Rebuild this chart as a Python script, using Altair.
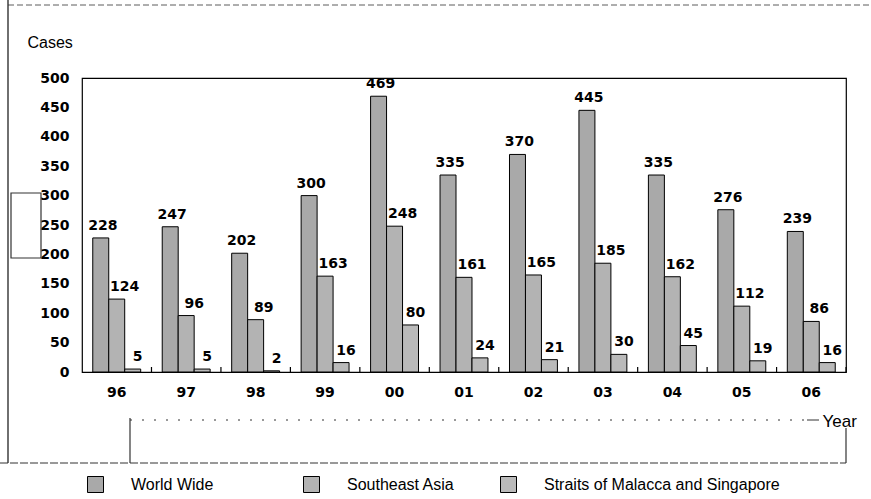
import altair as alt
import pandas as pd

# Piracy incidents per year
years = ["96", "97", "98", "99", "00", "01", "02", "03", "04", "05", "06"]
series_names = ["World Wide", "Southeast Asia", "Straits of Malacca and Singapore"]
world_wide = [228, 247, 202, 300, 469, 335, 370, 445, 335, 276, 239]
southeast_asia = [124, 96, 89, 163, 248, 161, 165, 185, 162, 112, 86]
straits = [5, 5, 2, 16, 80, 24, 21, 30, 45, 19, 16]
y_ticks = [0, 50, 100, 150, 200, 250, 300, 350, 400, 450, 500]

series_values = [world_wide, southeast_asia, straits]
rows = []
for name, values in zip(series_names, series_values):
    for yr, v in zip(years, values):
        rows.append({"year": yr, "series": name, "cases": v})
df = pd.DataFrame(rows)

W, H = 764, 294
fills = {"World Wide": "#a9a9a9", "Southeast Asia": "#b3b3b3",
         "Straits of Malacca and Singapore": "#bababa"}
legend_x = {"World Wide": 5, "Southeast Asia": 221,
            "Straits of Malacca and Singapore": 418}
label_dx = {"World Wide": 2, "Southeast Asia": 8,
            "Straits of Malacca and Singapore": 5}

label_style = dict(labelFont="DejaVu Sans", labelFontWeight="bold",
                   labelFontSize=14, labelColor="black")

x_scale = alt.Scale(paddingInner=0.31, paddingOuter=0.155)
x_axis = alt.Axis(
    labelAngle=0, tickSize=0, domain=False, labelPadding=13, **label_style,
    title="Year", titleFont="Liberation Sans", titleFontSize=17,
    titleFontWeight="normal", titleAlign="left", titleBaseline="alphabetic",
    titleX=740, titleY=54, titleAnchor="start", titleColor="black",
)
y_enc = alt.Y(
    "cases:Q",
    scale=alt.Scale(domain=[0, 500], nice=False),
    axis=alt.Axis(
        values=y_ticks, tickSize=0, domain=False, grid=False, labelPadding=13,
        **label_style,
        title="Cases", titleAngle=0, titleAlign="left", titleBaseline="alphabetic",
        titleX=-55, titleY=-31, titleFont="Liberation Sans", titleFontSize=16,
        titleFontWeight="normal", titleColor="black",
    ),
)
x_enc = alt.X("year:N", sort=years, scale=x_scale, axis=x_axis)
xo_enc = alt.XOffset("series:N", sort=series_names,
                     scale=alt.Scale(domain=series_names, paddingInner=0, paddingOuter=0))

layers = []
for name in series_names:
    base = alt.Chart(df).transform_filter(alt.datum.series == name)
    bars = base.mark_bar(stroke="black", strokeWidth=1).encode(
        x=x_enc,
        xOffset=xo_enc,
        y=y_enc,
        fill=alt.Fill(
            "series:N",
            scale=alt.Scale(domain=[name], range=[fills[name]]),
            legend=alt.Legend(
                orient="none", legendX=legend_x[name], legendY=398, title=None,
                symbolType="square", symbolSize=256, symbolStrokeColor="black",
                symbolStrokeWidth=1, symbolFillColor=fills[name],
                labelFont="Liberation Sans", labelFontSize=16, labelColor="black",
                labelOffset=27, padding=0, labelLimit=400,
            ),
        ),
    )
    labels = base.mark_text(
        font="DejaVu Sans", fontWeight="bold", fontSize=14, color="black",
        baseline="alphabetic", dy=-8, dx=label_dx[name],
    ).encode(x=x_enc, xOffset=xo_enc, y=y_enc, text=alt.Text("cases:Q"))
    layers += [bars, labels]

# short inward ticks at the boundaries between year groups
ticks = alt.Chart(df).transform_filter(alt.datum.series == series_names[0]).mark_rule(
    color="black", strokeWidth=1.2, xOffset=10.8
).encode(
    x=alt.X("year:N", sort=years, scale=x_scale, axis=x_axis, bandPosition=1),
    y=alt.value(H - 5),
    y2=alt.value(H),
)
layers.append(ticks)

# page frame lines around the figure
one = pd.DataFrame({"k": [0]})
frame_color = "#333333"
def vline(x, y1, y2, dash=None, w=1.2):
    kw = dict(color=frame_color, strokeWidth=w)
    if dash:
        kw["strokeDash"] = dash
    return alt.Chart(one).mark_rule(**kw).encode(
        x=alt.value(x), y=alt.value(y1), y2=alt.value(y2))
def hline(y, x1, x2, dash=None, w=1.0):
    kw = dict(color=frame_color, strokeWidth=w)
    if dash:
        kw["strokeDash"] = dash
    return alt.Chart(one).mark_rule(**kw).encode(
        y=alt.value(y), x=alt.value(x1), x2=alt.value(x2))

decor = [
    vline(-74, -78, 385, w=1.4),
    hline(-73, -74, 789, dash=[6, 3], w=0.8),
    hline(385, -82, 764, dash=[8, 2], w=1.0),
    vline(48, 340, 385, w=1.2),
    vline(764, 350, 385, w=1.2),
    hline(342, 48, 726, dash=[2, 10], w=1.0),
    hline(342, 725, 737, w=1.0),
    alt.Chart(one).mark_rect(fillOpacity=0, stroke=frame_color, strokeWidth=1.2).encode(
        x=alt.value(-71), x2=alt.value(-41), y=alt.value(115), y2=alt.value(180)),
]

chart = alt.layer(*layers, *decor).resolve_scale(
    fill="independent"
).resolve_legend(
    fill="independent"
).properties(
    width=W, height=H, background="white",
    autosize=alt.AutoSizeParams(type="none"),
    padding={"left": 82, "top": 78, "right": 25, "bottom": 127},
).configure_view(
    stroke="black", strokeWidth=1.2
)

chart.save("out.html", embed_options={"renderer": "svg", "actions": False})
